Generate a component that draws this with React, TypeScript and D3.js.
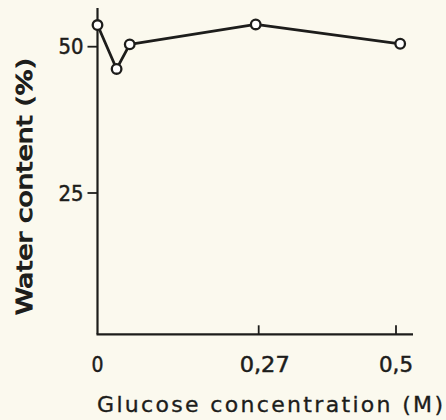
import React from "react";
import * as d3 from "d3";

const concentrations = [0, 0.032, 0.054, 0.265, 0.507];
const waterContent = [53.7, 46.2, 50.4, 53.8, 50.5];
const xTicks = [0.27, 0.5];
const xTickLabels = ["0", "0,27", "0,5"];
const xLabelValues = [0, 0.27, 0.5];
const yTicks = [25, 50];

const W = 446;
const H = 420;
const ink = "#1d1d1b";
const font = "'DejaVu Sans', sans-serif";

export default function App() {
  const x = d3.scaleLinear().domain([0, 0.5]).range([97.5, 396]);
  const y = d3.scaleLinear().domain([0, 50]).range([339.3, 46.7]);
  const axisY = 334.3;
  const axisTop = 8;
  const axisRight = 413;

  const line = d3
    .line<number>()
    .x((_, i) => x(concentrations[i]))
    .y((d) => y(d));

  const tickLabelLen = [12, 50, 34];

  return (
    <svg
      width={W}
      height={H}
      style={{ position: "absolute", left: 0, top: 0, background: "#fbf9ee" }}
    >
      <rect x={0} y={0} width={W} height={H} fill="#fbf9ee" />
      {/* axes */}
      <line x1={x(0)} x2={x(0)} y1={axisTop} y2={axisY} stroke={ink} strokeWidth={2.2} />
      <line x1={x(0) - 1} x2={axisRight} y1={axisY} y2={axisY} stroke={ink} strokeWidth={2.2} />
      {yTicks.map((t) => (
        <g key={t}>
          <line x1={x(0) - 10} x2={x(0)} y1={y(t)} y2={y(t)} stroke={ink} strokeWidth={1.8} />
          <text
            x={x(0) - 14}
            y={y(t) + 7.5}
            textAnchor="end"
            fontFamily={font}
            fontSize={20.5}
            fill={ink}
            stroke={ink}
            strokeWidth={0.5}
            textLength={25}
            lengthAdjust="spacingAndGlyphs"
          >
            {t}
          </text>
        </g>
      ))}
      {xTicks.map((t) => (
        <line key={t} x1={x(t)} x2={x(t)} y1={axisY} y2={axisY - 9} stroke={ink} strokeWidth={1.8} />
      ))}
      {xLabelValues.map((v, i) => (
        <text
          key={v}
          x={x(v) + (i === 1 ? 6 : 0)}
          y={372}
          textAnchor="middle"
          fontFamily={font}
          fontSize={21}
          fill={ink}
          stroke={ink}
          strokeWidth={0.5}
          textLength={tickLabelLen[i]}
          lengthAdjust="spacingAndGlyphs"
        >
          {xTickLabels[i]}
        </text>
      ))}
      <text
        x={97}
        y={412}
        fontFamily={font}
        fontSize={22}
        fill={ink}
        stroke={ink}
        strokeWidth={0.35}
        textLength={346}
        lengthAdjust="spacing"
      >
        Glucose concentration (M)
      </text>
      <text
        transform={`translate(32,186.5) rotate(-90)`}
        textAnchor="middle"
        fontFamily={font}
        fontSize={21}
        fill={ink}
        stroke={ink}
        strokeWidth={1.1}
        textLength={257}
        lengthAdjust="spacingAndGlyphs"
      >
        Water content (%)
      </text>
      {/* data */}
      <path d={line(waterContent) || ""} fill="none" stroke={ink} strokeWidth={2.8} strokeLinejoin="round" />
      {waterContent.map((v, i) => (
        <circle key={i} cx={x(concentrations[i])} cy={y(v)} r={4.8} fill="#ffffff" stroke={ink} strokeWidth={2.3} />
      ))}
    </svg>
  );
}
